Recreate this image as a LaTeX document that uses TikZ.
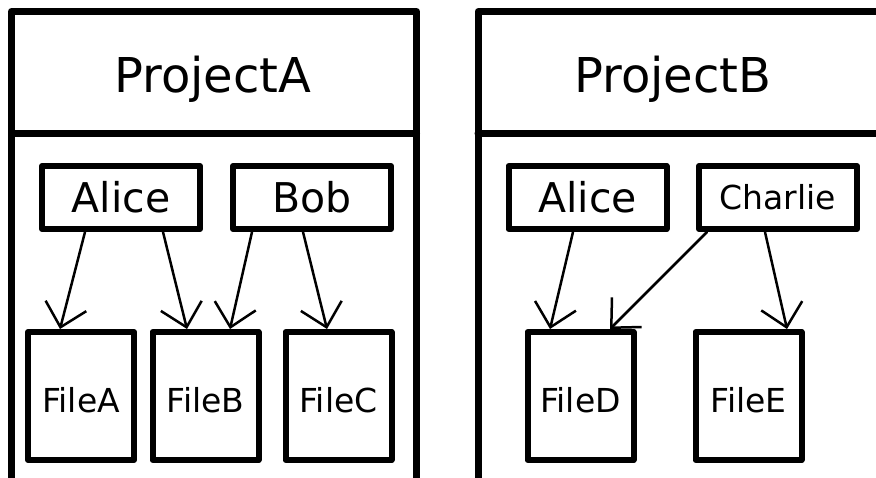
\documentclass[tikz,border=0pt]{standalone}
\usepackage{fontspec}
\setmainfont{DejaVu Sans}
\usetikzlibrary{arrows.meta}
\begin{document}
\begin{tikzpicture}[x=1pt,y=1pt,line join=round,line cap=round,>={Straight Barb[length=22pt,width=42pt]}]
	\tikzset{box/.style={draw,line width=6pt,inner sep=0pt},
		user/.style={box,minimum width=158pt,minimum height=63pt,font=\fontsize{41}{41}\selectfont},
		file/.style={box,minimum width=106pt,minimum height=128pt,text height=32pt,text depth=0pt,font=\fontsize{33}{33}\selectfont},
		link/.style={->,line width=2.5pt},
		title/.style={anchor=base,font=\fontsize{48}{48}\selectfont}}
	\useasboundingbox (0,0) rectangle (876,-477);
	\clip (0,0) rectangle (876,-477);
	% project frames
	\draw[line width=7pt] (11.5,-520)--(11.5,-11.5)--(416.5,-11.5)--(416.5,-520);
	\draw[line width=7pt] (11.5,-133)--(416.5,-133);
	\draw[line width=7pt] (478,-520)--(478,-11.5)--(920,-11.5);
	\draw[line width=7pt] (478,-133)--(920,-133);
	\node[title] (projA) at (213,-92) {ProjectA};
	\node[title] (projB) at (673,-92) {ProjectB};
	% users
	\node[user] (aliceA) at (121,-197.5) {Alice};
	\node[user] (bob) at (312,-197.5) {Bob};
	\node[user] (aliceB) at (587.5,-197.5) {Alice};
	\node[user,font=\fontsize{33}{33}\selectfont] (charlie) at (778,-197.5) {Charlie};
	% files
	\node[file] (fileA) at (81,-396) {FileA};
	\node[file] (fileB) at (205.5,-396) {FileB};
	\node[file] (fileC) at (338.5,-396) {FileC};
	\node[file] (fileD) at (580.5,-396) {FileD};
	\node[file] (fileE) at (748.5,-396) {FileE};
	\draw[link] ([xshift=-36pt]aliceA.south)--([xshift=-21pt]fileA.north);
	\draw[link] ([xshift=42pt]aliceA.south)--([xshift=-18.5pt]fileB.north);
	\draw[link] ([xshift=-60pt]bob.south)--([xshift=24.5pt]fileB.north);
	\draw[link] ([xshift=-9pt]bob.south)--([xshift=-11.5pt]fileC.north);
	\draw[link] ([xshift=-14.5pt]aliceB.south)--([xshift=-30.5pt]fileD.north);
	\draw[link] ([xshift=-71pt]charlie.south)--([xshift=29.5pt]fileD.north);
	\draw[link] ([xshift=-13pt]charlie.south)--([xshift=38.5pt]fileE.north);
\end{tikzpicture}
\end{document}
